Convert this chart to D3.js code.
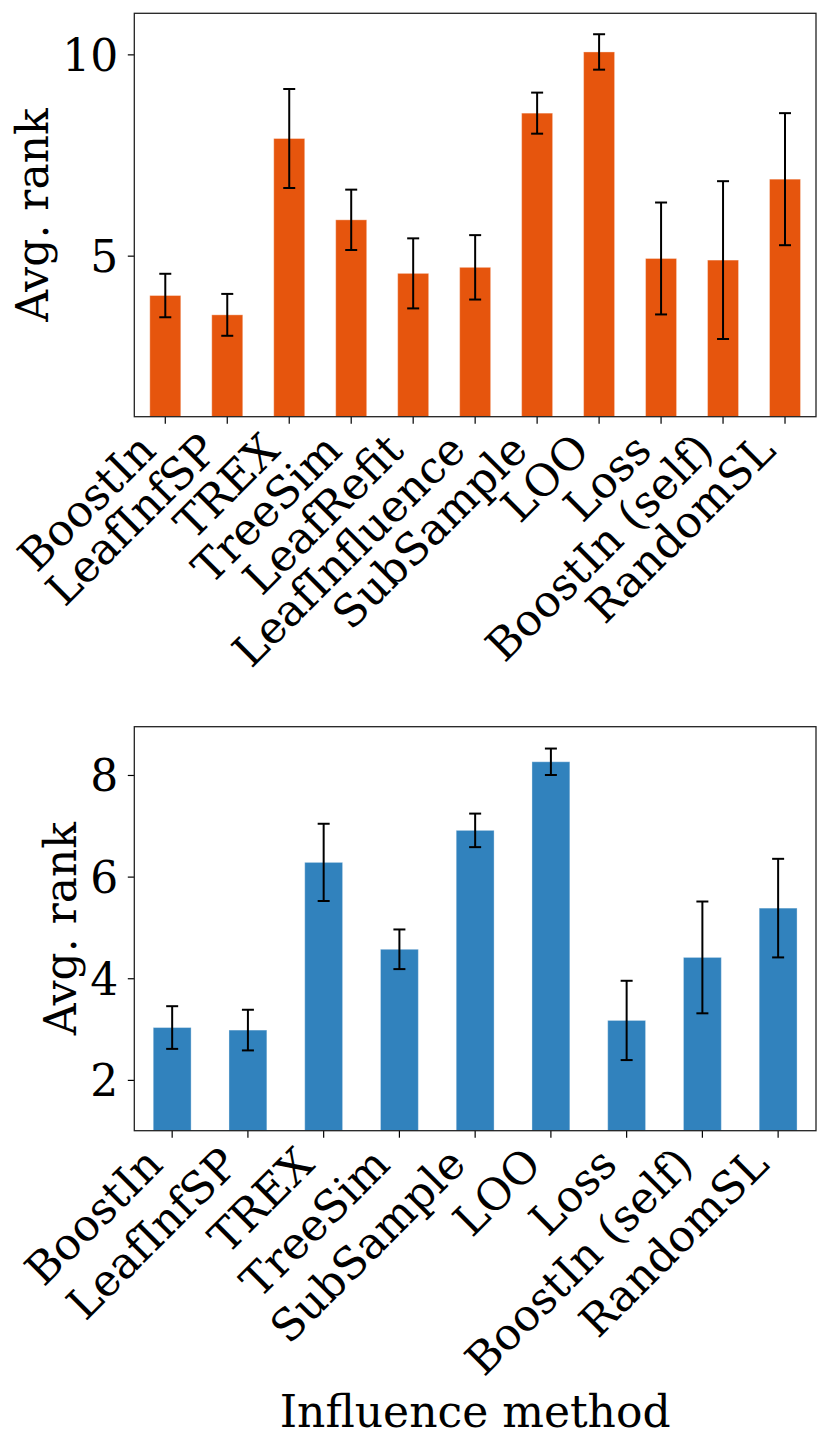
<!DOCTYPE html>
<html>
<head>
<meta charset="utf-8">
<script src="https://cdn.jsdelivr.net/npm/d3@7"></script>
<style>
  body { margin: 0; background: #fff; }
  svg { display: block; }
</style>
</head>
<body>
<svg id="chart" width="830" height="1450"></svg>
<script>
// top panel: all methods
const topMethods = ["BoostIn", "LeafInfSP", "TREX", "TreeSim", "LeafRefit", "LeafInfluence",
  "SubSample", "LOO", "Loss", "BoostIn (self)", "RandomSL"];
const topMeans = [4.01, 3.53, 7.91, 5.89, 4.56, 4.71, 8.54, 10.06, 4.93, 4.89, 6.90];
const topErrors = [0.54, 0.52, 1.23, 0.75, 0.87, 0.80, 0.51, 0.44, 1.39, 1.96, 1.64];
const topTicks = [5, 10];

// bottom panel: subset of methods
const bottomMethods = ["BoostIn", "LeafInfSP", "TREX", "TreeSim", "SubSample", "LOO",
  "Loss", "BoostIn (self)", "RandomSL"];
const bottomMeans = [3.03, 2.98, 6.28, 4.57, 6.91, 8.26, 3.17, 4.41, 5.38];
const bottomErrors = [0.42, 0.40, 0.76, 0.39, 0.33, 0.26, 0.78, 1.10, 0.97];
const bottomTicks = [2, 4, 6, 8];

const FONT = "DejaVu Serif";
const FONT_SIZE = 44;

const svg = d3.select("#chart");

function drawPanel(opts) {
  const { methods, means, errors, ticks, yDomain, color, box, yLabelX, xLabel } = opts;
  const g = svg.append("g");

  const x = d3.scaleBand()
    .domain(methods)
    .range([box.left, box.right])
    .paddingInner(0.5)
    .paddingOuter(0.25);

  const y = d3.scaleLinear()
    .domain(yDomain)
    .range([box.bottom, box.top]);

  // bars
  g.append("g")
    .selectAll("rect")
    .data(methods)
    .join("rect")
    .attr("x", d => x(d))
    .attr("y", (d, i) => y(means[i]))
    .attr("width", x.bandwidth())
    .attr("height", (d, i) => y(yDomain[0]) - y(means[i]))
    .attr("fill", color)
    .attr("stroke", "rgba(255,255,255,0.35)")
    .attr("stroke-width", 1);

  // error bars
  const capHalf = 6;
  const err = g.append("g")
    .attr("stroke", "#000")
    .attr("stroke-width", 2);
  methods.forEach((m, i) => {
    const cx = x(m) + x.bandwidth() / 2;
    const hi = y(means[i] + errors[i]);
    const lo = y(means[i] - errors[i]);
    err.append("line").attr("x1", cx).attr("x2", cx).attr("y1", hi).attr("y2", lo);
    err.append("line").attr("x1", cx - capHalf).attr("x2", cx + capHalf).attr("y1", hi).attr("y2", hi);
    err.append("line").attr("x1", cx - capHalf).attr("x2", cx + capHalf).attr("y1", lo).attr("y2", lo);
  });

  // y axis
  const yAxis = g.append("g")
    .attr("transform", `translate(${box.left},0)`)
    .call(d3.axisLeft(y).tickValues(ticks).tickSize(6.5).tickSizeOuter(0).tickPadding(9.5));
  yAxis.select(".domain").remove();
  yAxis.selectAll(".tick line").attr("stroke-width", 1.2);
  yAxis.selectAll("text")
    .attr("font-family", FONT)
    .attr("font-size", FONT_SIZE)
    .attr("dy", "0.36em")
    .attr("fill", "#000");

  // x axis with rotated labels
  const xAxis = g.append("g")
    .attr("transform", `translate(0,${box.bottom})`)
    .call(d3.axisBottom(x).tickSize(7).tickSizeOuter(0));
  xAxis.select(".domain").remove();
  xAxis.selectAll(".tick line").attr("stroke-width", 1.2);
  xAxis.selectAll("text")
    .attr("font-family", FONT)
    .attr("font-size", FONT_SIZE)
    .attr("fill", "#000")
    .attr("text-anchor", "end")
    .attr("x", null)
    .attr("y", null)
    .attr("dy", null)
    .attr("transform", "translate(-7.3,36) rotate(-45)");

  // frame
  g.append("rect")
    .attr("x", box.left)
    .attr("y", box.top)
    .attr("width", box.right - box.left)
    .attr("height", box.bottom - box.top)
    .attr("fill", "none")
    .attr("stroke", "#222")
    .attr("stroke-width", 1.3);

  // y label
  g.append("text")
    .attr("transform", `translate(${yLabelX},${(box.top + box.bottom) / 2}) rotate(-90)`)
    .attr("text-anchor", "middle")
    .attr("font-family", FONT)
    .attr("font-size", FONT_SIZE)
    .text("Avg. rank");

  if (xLabel) {
    g.append("text")
      .attr("x", (box.left + box.right) / 2)
      .attr("y", xLabel.y)
      .attr("text-anchor", "middle")
      .attr("font-family", FONT)
      .attr("font-size", FONT_SIZE)
      .text(xLabel.text);
  }
}

drawPanel({
  methods: topMethods,
  means: topMeans,
  errors: topErrors,
  ticks: topTicks,
  yDomain: [1.0, 11.02],
  color: "#e6550d",
  box: { left: 134.3, right: 816, top: 13.3, bottom: 416.7 },
  yLabelX: 48
});

drawPanel({
  methods: bottomMethods,
  means: bottomMeans,
  errors: bottomErrors,
  ticks: bottomTicks,
  yDomain: [1.0, 8.95],
  color: "#3182bd",
  box: { left: 134.3, right: 816, top: 726.7, bottom: 1130.7 },
  yLabelX: 76,
  xLabel: { text: "Influence method", y: 1427 }
});
</script>
</body>
</html>
